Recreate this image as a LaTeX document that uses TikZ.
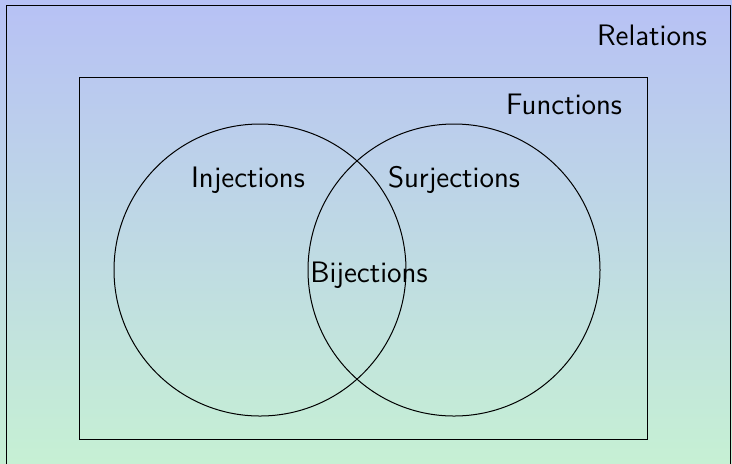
\documentclass[tikz,border=0pt]{standalone}
\usepackage{tikz}
\usetikzlibrary{positioning}
\definecolor{reltop}{RGB}{183,193,245}
\definecolor{relbot}{RGB}{198,240,212}
\tikzset{
	setlabel/.style={font=\sffamily\fontsize{14.8}{17}\selectfont,inner sep=1pt},
	setline/.style={draw=black,line width=0.5pt}}

\begin{document}
\begin{tikzpicture}[x=0.5pt,y=-0.5pt]
		\useasboundingbox (0,0) rectangle (732,463);
		\shade[top color=reltop,bottom color=relbot] (0,0) rectangle (732,463);
		\draw [setline] (6,470) -- (6,5) -- (730,5) -- (730,470);
		\node (F) at (363,258) [setline,minimum width=568*0.5pt,minimum height=362*0.5pt,inner sep=0pt] {};
		\node (I) at (260,270) [setline,circle,minimum size=292*0.5pt,inner sep=0pt] {};
		\node (S) at (454,270) [setline,circle,minimum size=292*0.5pt,inner sep=0pt] {};
		\node (lR) at (652,35) [setlabel] {Relations};
		\node (lF) at (564,104) [setlabel] {Functions};
		\node (lI) at (248,180) [setlabel] {Injections};
		\node (lS) at (454,180) [setlabel] {Surjections};
		\node (lB) at (369,275) [setlabel] {Bijections};
\end{tikzpicture}
\end{document}
